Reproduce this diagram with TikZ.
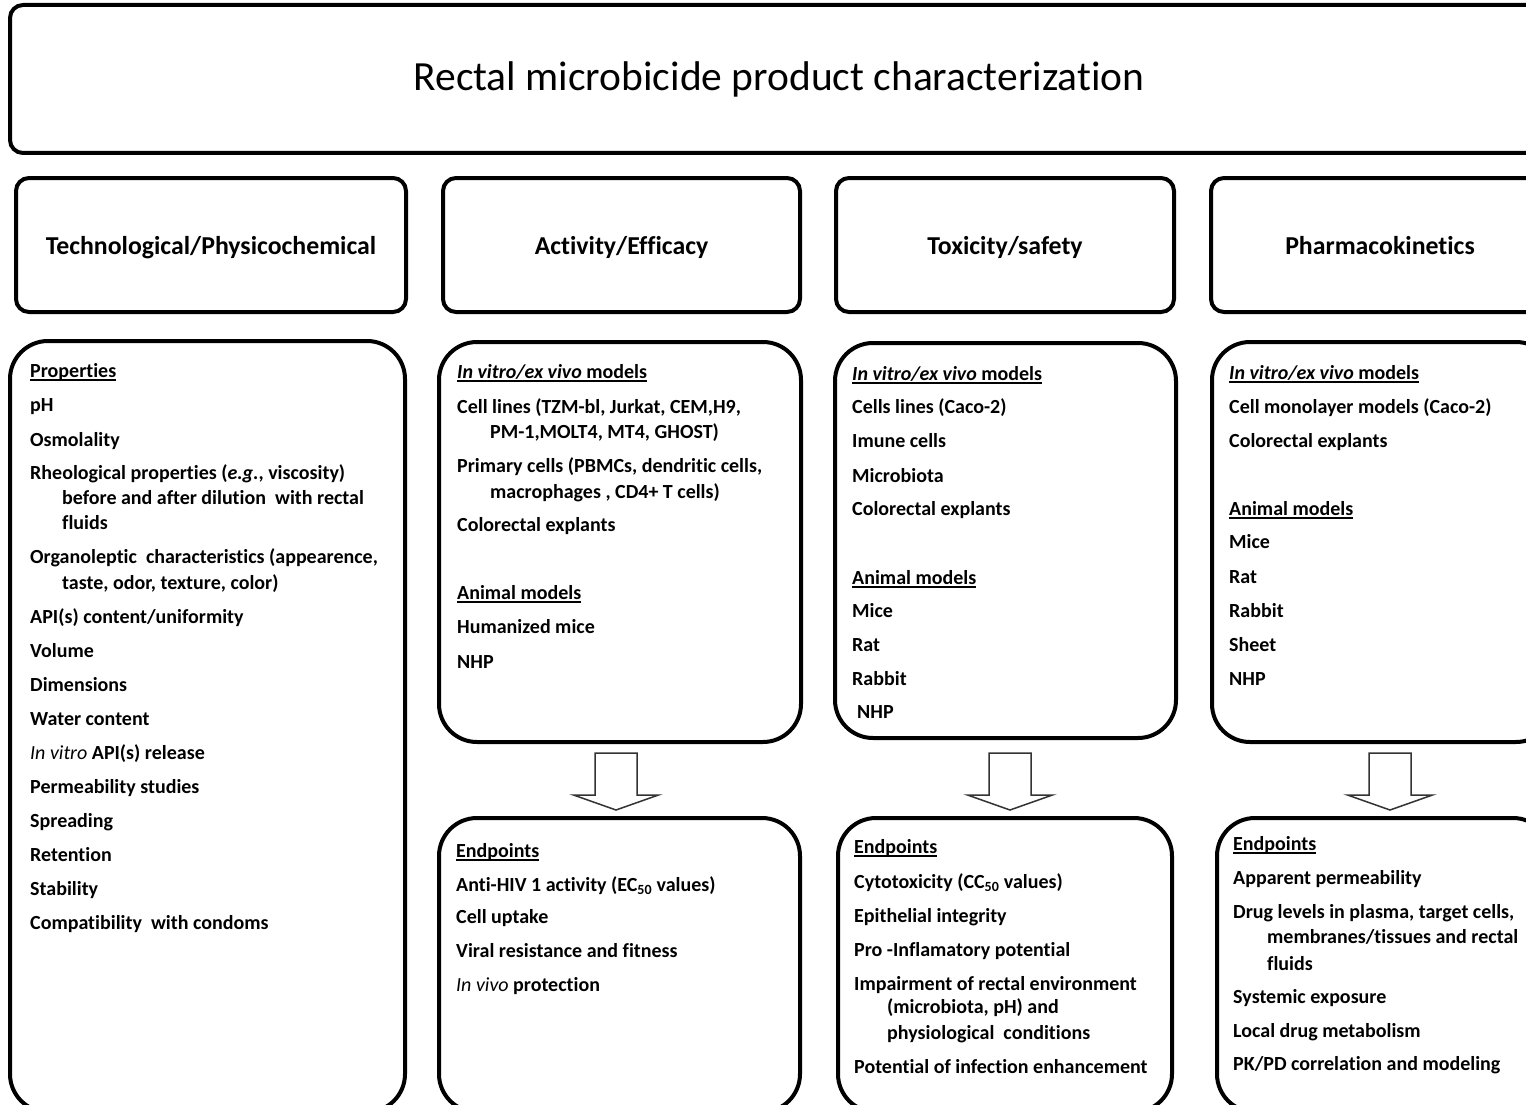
\documentclass[tikz,border=0pt]{standalone}
\usepackage{fontspec}
\setmainfont{Carlito}[Ligatures=NoCommon]
\newcommand\myul[1]{\setbox0\hbox{#1}\rlap{\rule[-4pt]{\wd0}{1.6pt}}\box0}
\newcommand\mytl[4]{\node[tl] (#1) at (#2,#3) {#4};}
\begin{document}
\begin{tikzpicture}[x=1pt,y=-1pt,
  box/.style={draw, line width=4pt, rounded corners=13pt, inner sep=0pt},
  cbox/.style={draw, line width=4pt, rounded corners=38pt, inner sep=0pt},
  tl/.style={anchor=base west, inner sep=0pt, font=\bfseries\fontsize{20}{24}\selectfont},
  hd/.style={font=\bfseries\fontsize{25.8}{30}\selectfont, text height=22pt, text depth=3.4pt},
  arr/.style={draw=black!80, line width=1.5pt, fill=white, line join=miter},
  downarr/.pic={\draw[arr] (-21,0) -- (21,0) -- (21,42) -- (42.5,42) -- (0,57) -- (-42.5,42) -- (-21,42) -- cycle;}
]
\useasboundingbox (0,0) rectangle (1526,1105);
\clip (0,0) rectangle (1526,1105);
\fill[white] (0,0) rectangle (1526,1105);

% title
\node[box, minimum width=1538pt, minimum height=148pt, font=\fontsize{41.5}{50}\selectfont, text height=33pt, text depth=9.4pt] (title) at (779,79) {Rectal microbicide product characterization};

% headers
\node[box, hd, minimum width=390pt, minimum height=134pt] (h1) at (211,245) {Technological/Physicochemical};
\node[box, hd, minimum width=357pt, minimum height=134pt] (h2) at (621.5,245) {Activity/Efficacy};
\node[box, hd, minimum width=338pt, minimum height=134pt] (h3) at (1005,245) {Toxicity/safety};
\node[box, hd, minimum width=338pt, minimum height=134pt] (h4) at (1380,245) {Pharmacokinetics};

% content boxes
\node[cbox, minimum width=395pt, minimum height=771pt] (c1) at (207.5,726.5) {};
\node[cbox, minimum width=362pt, minimum height=400pt] (c2) at (620,542) {};
\node[cbox, minimum width=341pt, minimum height=395pt] (c3) at (1005.5,540.5) {};
\node[cbox, minimum width=342pt, minimum height=400pt] (c4) at (1383,542) {};

% endpoint boxes
\node[cbox, minimum width=361pt, minimum height=294pt] (e2) at (619.5,965) {};
\node[cbox, minimum width=334pt, minimum height=294pt] (e3) at (1005,965) {};
\node[cbox, minimum width=334pt, minimum height=294pt] (e4) at (1384,965) {};

% arrows
\coordinate (a2) at (616,753);
\coordinate (a3) at (1010,753);
\coordinate (a4) at (1390,753);
\pic at (a2) {downarr};
\pic at (a3) {downarr};
\pic at (a4) {downarr};

% column 1
\mytl{p0}{30}{377}{\myul{Properties}}
\mytl{p1}{30}{411}{pH}
\mytl{p2}{30}{446}{Osmolality}
\mytl{p3}{30}{479}{Rheological properties (\textit{e.g.}, viscosity)}
\mytl{p3b}{62}{504}{before and after dilution~ with rectal}
\mytl{p3c}{62}{529}{fluids}
\mytl{p4}{30}{563}{Organoleptic~ characteristics (appearence,}
\mytl{p4b}{62}{589}{taste, odor, texture, color)}
\mytl{p5}{30}{623}{API(s) content/uniformity}
\mytl{p6}{30}{657}{Volume}
\mytl{p7}{30}{691}{Dimensions}
\mytl{p8}{30}{725}{Water content}
\mytl{p9}{30}{759}{\textit{\mdseries In vitro} API(s) release}
\mytl{p10}{30}{793}{Permeability studies}
\mytl{p11}{30}{827}{Spreading}
\mytl{p12}{30}{861}{Retention}
\mytl{p13}{30}{895}{Stability}
\mytl{p14}{30}{929}{Compatibility~ with condoms}

% column 2
\mytl{q0}{457}{378}{\myul{\textit{In vitro/ex vivo} models}}
\mytl{q1}{457}{413}{Cell lines (TZM-bl, Jurkat, CEM,H9,}
\mytl{q1b}{490}{438}{PM-1,MOLT4, MT4, GHOST)}
\mytl{q2}{457}{472}{Primary cells (PBMCs, dendritic cells,}
\mytl{q2b}{490}{498}{macrophages , CD4+ T cells)}
\mytl{q3}{457}{531}{Colorectal explants}
\mytl{q4}{457}{599}{\myul{Animal models}}
\mytl{q5}{457}{633}{Humanized mice}
\mytl{q6}{457}{668}{NHP}

% column 3
\mytl{r0}{852}{380}{\myul{\textit{In vitro/ex vivo} models}}
\mytl{r1}{852}{413}{Cells lines (Caco-2)}
\mytl{r2}{852}{447}{Imune cells}
\mytl{r3}{852}{482}{Microbiota}
\mytl{r4}{852}{515}{Colorectal explants}
\mytl{r5}{852}{584}{\myul{Animal models}}
\mytl{r6}{852}{617}{Mice}
\mytl{r7}{852}{651}{Rat}
\mytl{r8}{852}{685}{Rabbit}
\mytl{r9}{857}{718}{NHP}

% column 4
\mytl{s0}{1229}{379}{\myul{\textit{In vitro/ex vivo} models}}
\mytl{s1}{1229}{413}{Cell monolayer models (Caco-2)}
\mytl{s2}{1229}{447}{Colorectal explants}
\mytl{s3}{1229}{515}{\myul{Animal models}}
\mytl{s4}{1229}{548}{Mice}
\mytl{s5}{1229}{583}{Rat}
\mytl{s6}{1229}{617}{Rabbit}
\mytl{s7}{1229}{651}{Sheet}
\mytl{s8}{1229}{685}{NHP}

% endpoints 2
\mytl{u0}{456}{857}{\myul{Endpoints}}
\mytl{u1}{456}{891}{Anti-HIV 1 activity (EC\textsubscript{50} values)}
\mytl{u2}{456}{923}{Cell uptake}
\mytl{u3}{456}{957}{Viral resistance and fitness}
\mytl{u4}{456}{991}{\textit{\mdseries In vivo} protection}

% endpoints 3
\mytl{v0}{854}{853}{\myul{Endpoints}}
\mytl{v1}{854}{888}{Cytotoxicity (CC\textsubscript{50} values)}
\mytl{v2}{854}{922}{Epithelial integrity}
\mytl{v3}{854}{956}{Pro -Inflamatory potential}
\mytl{v4}{854}{990}{Impairment of rectal environment}
\mytl{v4b}{887}{1013}{(microbiota, pH) and}
\mytl{v4c}{887}{1039}{physiological~ conditions}
\mytl{v5}{854}{1073}{Potential of infection enhancement}

% endpoints 4
\mytl{w0}{1233}{850}{\myul{Endpoints}}
\mytl{w1}{1233}{884}{Apparent permeability}
\mytl{w2}{1233}{918}{Drug levels in plasma, target cells,}
\mytl{w2b}{1267}{943}{membranes/tissues and rectal}
\mytl{w2c}{1267}{970}{fluids}
\mytl{w3}{1233}{1003}{Systemic exposure}
\mytl{w4}{1233}{1037}{Local drug metabolism}
\mytl{w5}{1233}{1070}{PK/PD correlation and modeling}
\end{tikzpicture}
\end{document}
